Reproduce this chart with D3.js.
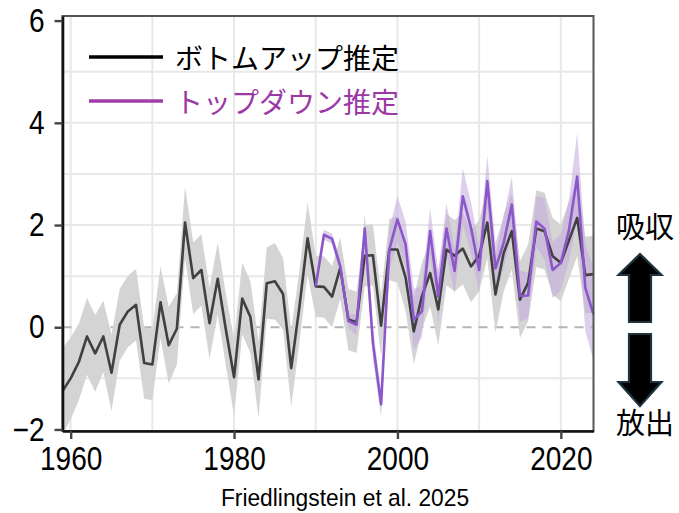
<!DOCTYPE html>
<html>
<head>
<meta charset="utf-8">
<script src="https://cdn.jsdelivr.net/npm/d3@7/dist/d3.min.js"></script>
<style>
  html, body { margin: 0; padding: 0; background: #fff; }
  svg { display: block; }
</style>
</head>
<body>
<svg id="chart" width="679" height="513"></svg>
<script>
// Annual values (GtC/yr)
const buYears = d3.range(1959, 2025);
const bottomUp = [
  -1.25, -1.0, -0.68, -0.18, -0.51, -0.18, -0.89, 0.05, 0.31, 0.44,
  -0.70, -0.73, 0.49, -0.35, -0.03, 2.05, 0.96, 1.12, 0.08, 0.95,
  -0.05, -0.98, 0.56, 0.2, -1.02, 0.86, 0.9, 0.65, -0.8, 0.4,
  1.74, 0.8, 0.79, 0.6, 1.16, 0.15, 0.1, 1.4, 1.41, 0.03,
  1.52, 1.52, 0.97, -0.08, 0.61, 1.06, 0.35, 1.52, 1.4, 1.54,
  1.19, 1.4, 2.05, 0.64, 1.45, 1.88, 0.54, 0.87, 1.93, 1.88,
  1.39, 1.26, 1.7, 2.14, 1.02, 1.04,
];
const bottomUpUnc = [
  0.85, 0.8, 0.75, 0.75, 0.75, 0.7, 0.75, 0.7, 0.7, 0.7,
  0.7, 0.7, 0.7, 0.75, 0.7, 0.7, 0.7, 0.7, 0.7, 0.7,
  0.7, 0.75, 0.7, 0.7, 0.75, 0.7, 0.75, 0.7, 0.75, 0.7,
  0.7, 0.6, 0.6, 0.6, 0.6, 0.6, 0.6, 0.6, 0.6, 0.6,
  0.6, 0.65, 0.65, 0.65, 0.65, 0.65, 0.7, 0.7, 0.7, 0.7,
  0.7, 0.7, 0.7, 0.75, 0.75, 0.75, 0.75, 0.75, 0.75, 0.75,
  0.75, 0.75, 0.75, 0.75, 0.75, 0.75,
];
const tdYears = d3.range(1990, 2025);
const topDown = [
  0.8, 1.81, 1.73, 1.19, 0.12, 0.05, 1.93, -0.31, -1.51, 1.52,
  2.11, 1.62, 0.15, 0.31, 1.88, 0.6, 1.93, 1.1, 2.56, 1.95,
  1.12, 2.86, 1.15, 1.65, 2.4, 0.61, 0.62, 2.07, 1.93, 1.12,
  1.26, 1.9, 2.95, 0.77, 0.25,
];
const topDownUnc = [
  0.1, 0.1, 0.1, 0.15, 0.15, 0.2, 0.3, 0.3, 0.25, 0.4,
  0.45, 0.45, 0.6, 0.5, 0.45, 0.5, 0.5, 0.45, 0.55, 0.5,
  0.45, 0.5, 0.5, 0.5, 0.55, 0.5, 0.45, 0.5, 0.6, 0.55,
  0.55, 0.6, 0.85, 0.85, 0.9,
];

const xTicks = [1960, 1980, 2000, 2020];
const yTicks = [-2, 0, 2, 4, 6];
const xGrid = [1960, 1970, 1980, 1990, 2000, 2010, 2020];
const yGrid = [-1, 1, 2, 3, 4, 5];

const legendItems = [
  { label: "ボトムアップ推定", line: "#000000", text: "#000000" },
  { label: "トップダウン推定", line: "#a23ca8", text: "#9c38a6" },
];
const upLabel = "吸収";
const downLabel = "放出";
const citation = "Friedlingstein et al. 2025";

const plot = { left: 62.5, right: 593.5, top: 16, bottom: 431 };
const NUM_FONT = "'Liberation Sans', Arial, sans-serif";
const JP_FONT = "'Noto Sans CJK JP', sans-serif";
const SQUEEZE = 0.85;

const svg = d3.select("#chart");

const x = d3.scaleLinear().domain([1959, 2024]).range([plot.left, plot.right]);
const y = d3.scaleLinear().domain([-2.03, 6.09]).range([plot.bottom, plot.top]);

const toRows = (years, vals, unc) =>
  years.map((year, i) => ({ year, v: vals[i], lo: vals[i] - unc[i], hi: vals[i] + unc[i] }));
const buRows = toRows(buYears, bottomUp, bottomUpUnc);
const tdRows = toRows(tdYears, topDown, topDownUnc);

// grid
const grid = svg.append("g").attr("stroke", "#e8e8e8").attr("stroke-width", 2);
grid.selectAll("line.v").data(xGrid).join("line")
  .attr("x1", (d) => x(d)).attr("x2", (d) => x(d))
  .attr("y1", plot.top).attr("y2", plot.bottom);
grid.selectAll("line.h").data(yGrid).join("line")
  .attr("x1", plot.left).attr("x2", plot.right)
  .attr("y1", (d) => y(d)).attr("y2", (d) => y(d));

// zero line
svg.append("line")
  .attr("x1", plot.left).attr("x2", plot.right)
  .attr("y1", y(0)).attr("y2", y(0))
  .attr("stroke", "#b4b4b4").attr("stroke-width", 2)
  .attr("stroke-dasharray", "9,7");

// uncertainty bands
const band = d3.area().x((d) => x(d.year)).y0((d) => y(d.lo)).y1((d) => y(d.hi));
svg.append("path").datum(buRows).attr("d", band).attr("fill", "#d4d4d4");
svg.append("path").datum(tdRows).attr("d", band)
  .attr("fill", "#c2a8de").attr("fill-opacity", 0.55);

// lines
const line = d3.line().x((d) => x(d.year)).y((d) => y(d.v));
svg.append("path").datum(buRows).attr("d", line)
  .attr("fill", "none").attr("stroke", "#404040").attr("stroke-width", 2.6)
  .attr("stroke-linejoin", "round");
svg.append("path").datum(tdRows).attr("d", line)
  .attr("fill", "none").attr("stroke", "#8b57c9").attr("stroke-width", 2.6)
  .attr("stroke-linejoin", "round");

// frame
svg.append("rect")
  .attr("x", plot.left).attr("y", plot.top)
  .attr("width", plot.right - plot.left).attr("height", plot.bottom - plot.top)
  .attr("fill", "none").attr("stroke", "#555").attr("stroke-width", 2);

// axes
const fmt = (d) => (d < 0 ? "\u2212" + Math.abs(d) : String(d));
const yAxis = svg.append("g")
  .attr("transform", `translate(${plot.left},0)`)
  .call(d3.axisLeft(y).tickValues(yTicks).tickFormat(fmt).tickSize(8).tickSizeOuter(0).tickPadding(10));
const xAxis = svg.append("g")
  .attr("transform", `translate(0,${plot.bottom})`)
  .call(d3.axisBottom(x).tickValues(xTicks).tickFormat(d3.format("d")).tickSize(8).tickSizeOuter(0).tickPadding(8));

[yAxis, xAxis].forEach((g) => {
  g.select(".domain").attr("stroke", "#111").attr("stroke-width", 2.6);
  g.selectAll(".tick line").attr("stroke", "#444").attr("stroke-width", 2.4);
  g.selectAll(".tick text")
    .attr("fill", "#000")
    .style("font-family", NUM_FONT)
    .style("font-size", "33px")
    .attr("x", function () { return (+d3.select(this).attr("x") || 0) / SQUEEZE; })
    .attr("transform", `scale(${SQUEEZE},1)`);
});

// legend
const legend = svg.append("g");
legendItems.forEach((item, i) => {
  const ly = 57 + i * 44;
  legend.append("line")
    .attr("x1", 89).attr("x2", 163).attr("y1", ly).attr("y2", ly)
    .attr("stroke", item.line).attr("stroke-width", 3.4);
  legend.append("text")
    .attr("x", 175).attr("y", ly)
    .attr("dominant-baseline", "central")
    .attr("fill", item.text)
    .style("font-family", JP_FONT).style("font-size", "28px")
    .text(item.label);
});

// absorb / emit arrows
const ax = 640;
const arrow = (tipY, baseY, headY) =>
  `M${ax},${tipY} L${ax + 21.5},${headY} L${ax + 11},${headY} L${ax + 11},${baseY}` +
  ` L${ax - 11},${baseY} L${ax - 11},${headY} L${ax - 21.5},${headY} Z`;
svg.append("path").attr("d", arrow(254, 322, 275))
  .attr("fill", "#000").attr("stroke", "#1c3340").attr("stroke-width", 2.2)
  .attr("stroke-linejoin", "miter");
svg.append("path").attr("d", arrow(406, 334, 382))
  .attr("fill", "#000").attr("stroke", "#1c3340").attr("stroke-width", 2.2)
  .attr("stroke-linejoin", "miter");

svg.append("text").attr("x", 645).attr("y", 225)
  .attr("text-anchor", "middle").attr("dominant-baseline", "central")
  .style("font-family", JP_FONT).style("font-size", "29px")
  .text(upLabel);
svg.append("text").attr("x", 645).attr("y", 421)
  .attr("text-anchor", "middle").attr("dominant-baseline", "central")
  .style("font-family", JP_FONT).style("font-size", "29px")
  .text(downLabel);

// citation
svg.append("text")
  .attr("x", 345 / 0.95).attr("y", 506)
  .attr("text-anchor", "middle")
  .attr("transform", "scale(0.95,1)")
  .style("font-family", NUM_FONT).style("font-size", "24px")
  .text(citation);
</script>
</body>
</html>
